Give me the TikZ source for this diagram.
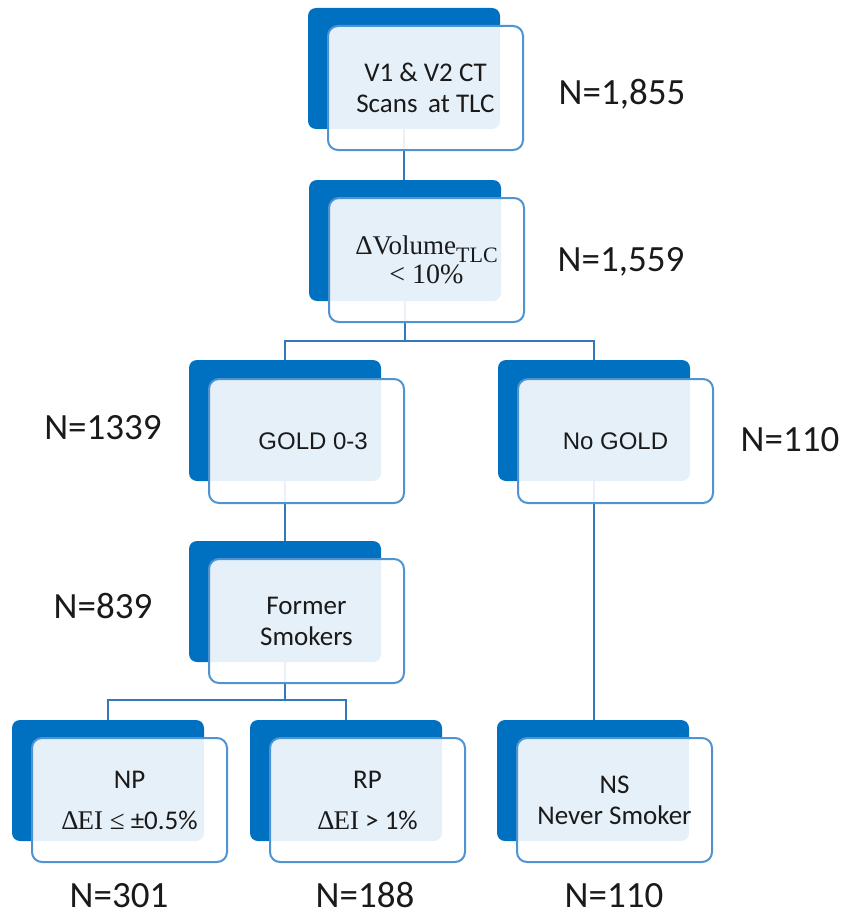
\documentclass[tikz,border=0pt]{standalone}
\usepackage{fontspec}
\setmainfont{Carlito}
\newfontfamily\arialf{Liberation Sans}
\newfontfamily\tnrf{Liberation Serif}
\usetikzlibrary{backgrounds}
\definecolor{backblue}{HTML}{0070C0}
\definecolor{edgeblue}{HTML}{4F93D2}
\definecolor{linkblue}{HTML}{3378BD}
\definecolor{txt}{HTML}{1A1A1A}
\tikzset{
  backbox/.style={draw=none, fill=backblue, rounded corners=4pt, minimum width=96pt, minimum height=60.5pt, inner sep=0pt},
  frontbox/.style={draw=edgeblue, line width=1pt, fill=white, fill opacity=0.9, text opacity=1, rounded corners=5pt, minimum width=97.5pt, minimum height=62pt, inner sep=0pt, align=center, text=txt, font=\fontsize{13.5}{15.5}\selectfont},
  link/.style={draw=linkblue, line width=1.2pt},
  nlabel/.style={anchor=base, text=txt, font=\fontsize{18.5}{20}\selectfont, inner sep=0pt}
}
\begin{document}
\begin{tikzpicture}[x=0.5pt,y=-0.5pt]
\useasboundingbox (0,0) rectangle (848,915);
% boxes
\node[backbox] (b1) at (404,68.5) {};
\node[frontbox] (f1) at (425.5,88) {V1 \& V2 CT\\Scans\, at TLC};
\node[backbox] (b2) at (405,240.5) {};
\node[frontbox] (f2) at (426.5,260) {\tnrf\fontsize{13.5}{13.5}\selectfont ΔVolume\raisebox{-0.3em}{\fontsize{11}{11}\selectfont TLC}\\[-1pt]\tnrf\fontsize{14}{14}\selectfont {<} 10\%};
\node[backbox] (b3) at (285,420.5) {};
\node[frontbox] (f3) at (306.5,441) {\arialf\fontsize{12}{14}\selectfont\ \ GOLD 0-3};
\node[backbox] (b4) at (594,420.5) {};
\node[frontbox] (f4) at (615.5,441) {\arialf\fontsize{12}{14}\selectfont No GOLD};
\node[backbox] (b5) at (285,601.5) {};
\node[frontbox] (f5) at (306.5,621) {Former\\Smokers};
\node[backbox] (b6) at (108,780.5) {};
\node[frontbox] (f6) at (129.5,800) {NP\\[5pt]{\tnrf Δ\kern-0.5pt EI ≤} ±0.5\%};
\node[backbox] (b7) at (346,780.5) {};
\node[frontbox] (f7) at (367.5,800) {RP\\[5pt]{\tnrf Δ\kern-0.5pt EI} {>} 1\%};
\node[backbox] (b8) at (593,780.5) {};
\node[frontbox] (f8) at (614.5,800) {NS\\Never Smoker};
% junctions
\coordinate (j2) at (405,341);
\coordinate (j5) at (285,700);
\begin{scope}[on background layer]
\draw[link] (b1.south) -- (b1.south |- b2.north);
\draw[link] (b2.south) -- (j2);
\draw[link] (b3.north) |- (j2) -| (b4.north);
\draw[link] (b3.south) -- (b3.south |- b5.north);
\draw[link] (b5.south) -- (j5);
\draw[link] (b6.north) |- (j5) -| (b7.north);
\draw[link] (b4.south) -- (b4.south |- b8.north);
\end{scope}
% labels
\node[nlabel] (n1) at (622,104.5) {N=1,855};
\node[nlabel] (n2) at (621,271.5) {N=1,559};
\node[nlabel] (n3) at (103,439.5) {N=1339};
\node[nlabel] (n4) at (790,451.5) {N=110};
\node[nlabel] (n5) at (103,618.5) {N=839};
\node[nlabel] (n6) at (119,907) {N=301};
\node[nlabel] (n7) at (365,907) {N=188};
\node[nlabel] (n8) at (614,907) {N=110};
\end{tikzpicture}
\end{document}
